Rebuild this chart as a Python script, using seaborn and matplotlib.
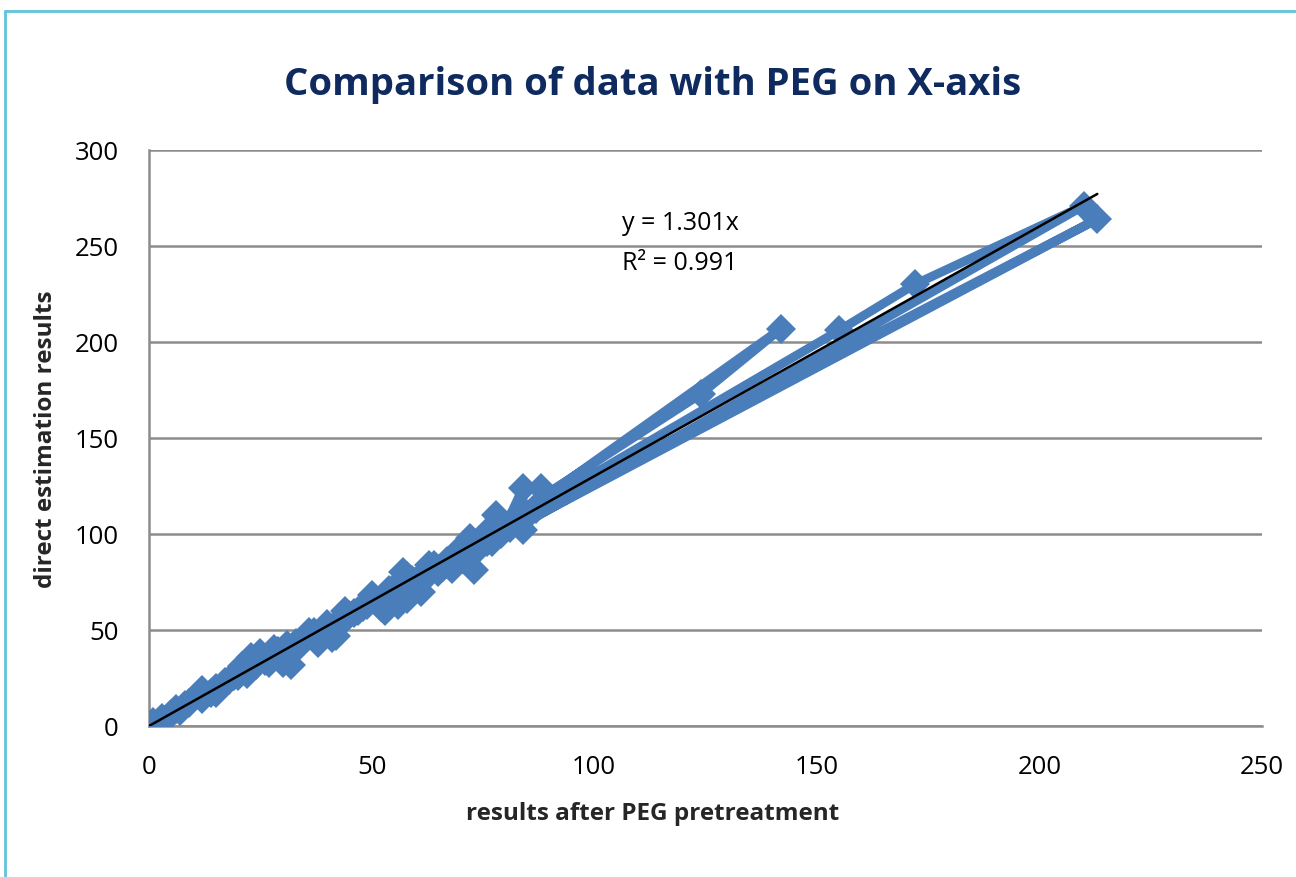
import matplotlib
matplotlib.use("Agg")
import matplotlib.pyplot as plt
import seaborn as sns
import numpy as np
import pandas as pd
from matplotlib.lines import Line2D

# Data (in original worksheet order)
peg_x = [0, 1, 7, 5, 12, 9, 15, 18, 12, 21, 23, 20, 26, 25, 30, 28, 32, 35, 38, 33,
         40, 42, 37, 45, 48, 41, 50, 52, 47, 55, 57, 53, 58, 62, 56, 60, 64, 61, 66, 70,
         68, 73, 72, 75, 71, 78, 77, 80, 84, 84, 88, 86, 82, 142, 124, 76, 69, 90, 63, 55,
         213, 85, 59, 155, 172, 210, 65, 74, 44, 30, 15, 3,
         8, 14, 22, 19, 27, 24, 34, 31, 39, 36, 46, 43, 51, 49, 54, 59, 63, 67, 65, 71,
         74, 79, 76, 83, 81, 87, 58, 44, 29, 17, 6]
direct_y = [0, 2, 8, 6, 19, 12, 17, 24, 14, 31, 36, 26, 34, 38, 33, 40, 32, 46, 43, 43,
            53, 47, 49, 58, 62, 46, 68, 62, 60, 72, 80, 60, 66, 78, 63, 75, 84, 70, 83, 90,
            82, 81, 98, 97, 93, 110, 96, 104, 124, 102, 124, 112, 108, 207, 173, 101, 90, 118, 79, 70,
            264, 110, 76, 206, 230, 271, 80, 92, 57, 38, 20, 4,
            11, 17, 27, 26, 33, 32, 42, 42, 48, 49, 59, 53, 65, 63, 71, 74, 84, 86, 82, 90,
            96, 100, 96, 107, 103, 113, 78, 60, 39, 23, 9]
slope = 1.301
r2 = 0.991

title = "Comparison of data with PEG on X-axis"
xlabel = "results after PEG pretreatment"
ylabel = "direct estimation results"

sns.set_theme(style="white")
plt.rcParams['font.family'] = ['Open Sans', 'DejaVu Sans']

fig = plt.figure(figsize=(12.96, 8.78), dpi=100)
ax = fig.add_axes([149/1296, 1-727/878, (1262-149)/1296, (727-151)/878])

df = pd.DataFrame({"x": peg_x, "y": direct_y})
sns.lineplot(data=df, x="x", y="y", sort=False, estimator=None, ax=ax,
             color="#4a7ebb", linewidth=6.5, marker="D", markersize=15,
             markeredgewidth=0, zorder=3)

# linear trendline through origin
xt = np.array([0, max(peg_x)])
ax.plot(xt, slope * xt, color="black", linewidth=1.8, zorder=4)
ax.text(106.3, 262.5, f"y = {slope}x", fontsize=18, ha="left", va="center", color="black")
ax.text(106.3, 241.5, f"R² = {r2}", fontsize=18, ha="left", va="center", color="black")

ax.set_xlim(0, 250)
ax.set_ylim(0, 300)
ax.set_xticks(range(0, 251, 50))
ax.set_yticks(range(0, 301, 50))
ax.yaxis.grid(True, color="#8c8c8c", linewidth=1.8)
ax.xaxis.grid(False)
for s in ["top", "right"]:
    ax.spines[s].set_visible(False)
for s in ["left", "bottom"]:
    ax.spines[s].set_color("#8c8c8c")
    ax.spines[s].set_linewidth(1.8)
ax.tick_params(axis="both", labelsize=18.5, colors="black", length=0)
ax.tick_params(axis="y", pad=22)
ax.tick_params(axis="x", pad=20)

ax.set_xlabel(xlabel, fontsize=17.5, fontweight="bold")
ax.set_ylabel(ylabel, fontsize=17.5, fontweight="bold")
ax.xaxis.set_label_coords((653-149)/(1262-149), -(802-727)/(727-151))
ax.yaxis.set_label_coords(-(149-58)/(1262-149), 0.5)
fig.text(653/1296, 1-85/878, title, fontsize=27.5, fontweight="bold",
         color="#0f2a5e", ha="center", va="center")

# chart area border (top and left visible)
border_c = "#5fc4dc"
fig.add_artist(Line2D([5/1296, 1], [1-12/878, 1-12/878], color=border_c, linewidth=2, transform=fig.transFigure))
fig.add_artist(Line2D([5/1296, 5/1296], [0, 1-12/878], color=border_c, linewidth=2, transform=fig.transFigure))

fig.savefig("out.png", dpi=100)
